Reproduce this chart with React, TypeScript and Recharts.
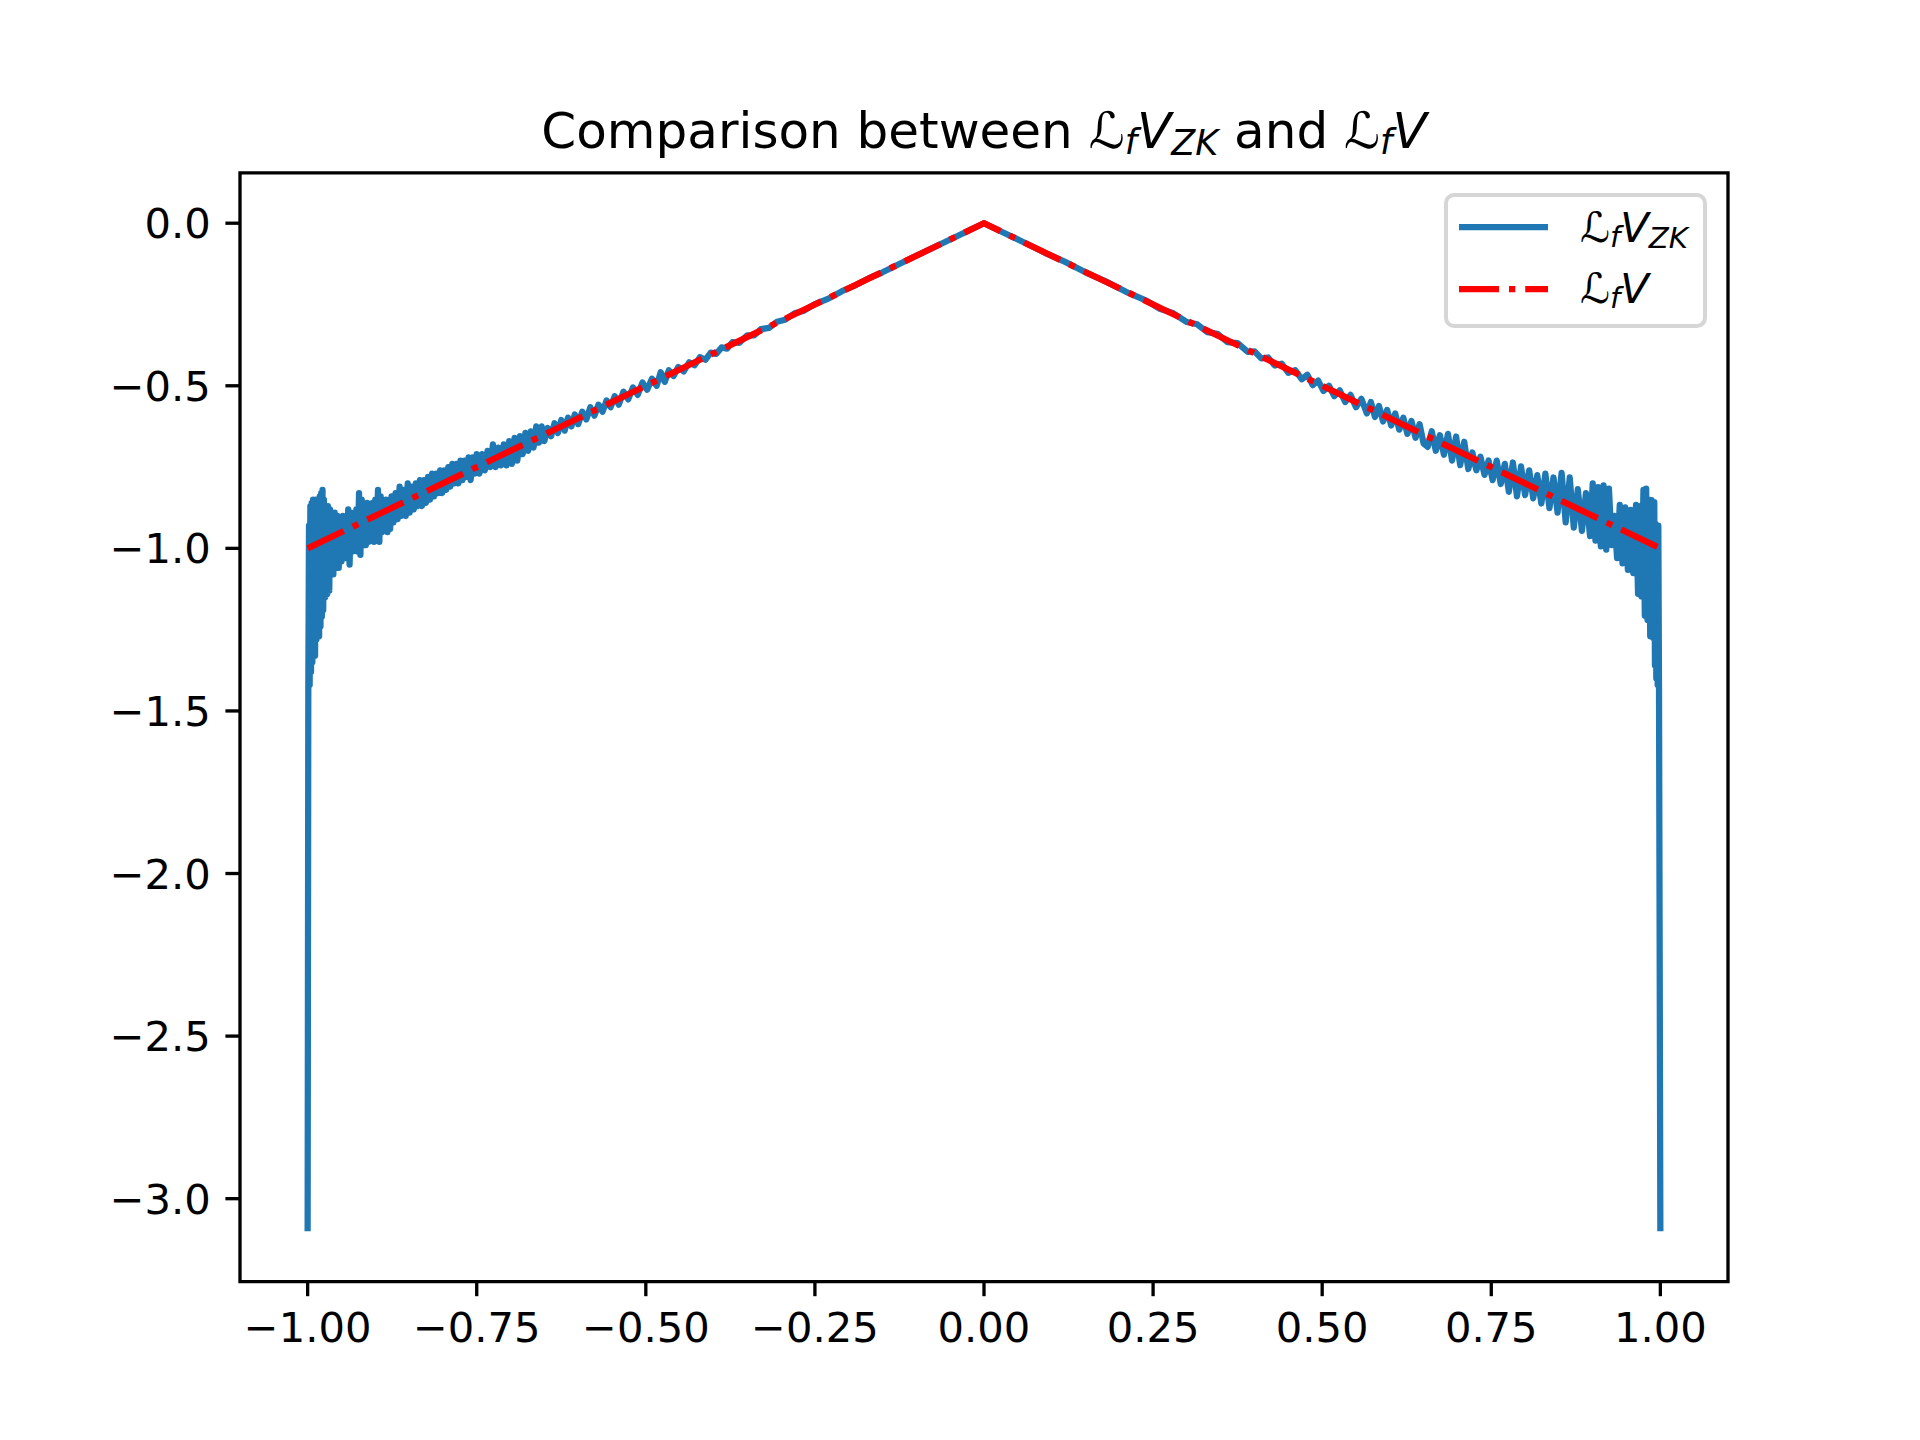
import React from "react";
import {
  Legend,
  Line,
  LineChart,
  ReferenceArea,
  XAxis,
  YAxis,
} from "recharts";

// x ticks / y ticks as drawn on the axes
const xTicks = [-1, -0.75, -0.5, -0.25, 0, 0.25, 0.5, 0.75, 1];
const yTicks = [0, -0.5, -1, -1.5, -2, -2.5, -3];

// L_f V : exact curve (red, dash-dot)
const lfV: [number, number][] = [
  [-1, -1],
  [0, 0],
  [1, -1],
];

// L_f V_ZK : noisy approximation (blue), left wing
const zkLeft: [number, number][] = [
  [-1.0, -3.1], [-0.999, -1.43], [-0.998, -0.93], [-0.997, -1.42], [-0.996, -0.87],
  [-0.995, -1.38], [-0.994, -0.86], [-0.993, -1.35], [-0.992, -0.85], [-0.991, -1.3],
  [-0.99, -0.86], [-0.989, -1.33], [-0.988, -0.85], [-0.987, -1.28], [-0.986, -0.86],
  [-0.985, -1.22], [-0.984, -0.87], [-0.983, -1.27], [-0.982, -0.84], [-0.981, -1.24],
  [-0.98, -0.83], [-0.979, -1.21], [-0.978, -0.82], [-0.977, -1.19], [-0.976, -0.85],
  [-0.974, -1.15], [-0.973, -0.88], [-0.971, -1.14], [-0.97, -0.87], [-0.968, -1.13],
  [-0.967, -0.88], [-0.965, -1.07], [-0.964, -0.89], [-0.962, -1.08], [-0.96, -0.89],
  [-0.958, -1.06], [-0.956, -0.9], [-0.954, -1.06], [-0.952, -0.92], [-0.95, -1.04],
  [-0.948, -0.9], [-0.946, -1.03], [-0.944, -0.91], [-0.942, -1.03], [-0.94, -0.88],
  [-0.938, -1.05], [-0.936, -0.89], [-0.934, -1.01], [-0.932, -0.9], [-0.93, -0.98],
  [-0.928, -0.88], [-0.926, -1.01], [-0.924, -0.83], [-0.922, -1.02], [-0.92, -0.85],
  [-0.918, -0.99], [-0.916, -0.87], [-0.914, -0.99], [-0.912, -0.86], [-0.91, -0.98],
  [-0.908, -0.88], [-0.906, -0.97], [-0.904, -0.86], [-0.902, -0.98], [-0.9, -0.85],
  [-0.898, -0.97], [-0.896, -0.82], [-0.894, -0.98], [-0.892, -0.84], [-0.89, -0.95],
  [-0.888, -0.86], [-0.886, -0.94], [-0.884, -0.85], [-0.882, -0.95], [-0.88, -0.86],
  [-0.878, -0.94], [-0.876, -0.84], [-0.873, -0.92], [-0.87, -0.83], [-0.867, -0.91],
  [-0.864, -0.81], [-0.861, -0.9], [-0.858, -0.82], [-0.855, -0.9], [-0.852, -0.8],
  [-0.849, -0.89], [-0.846, -0.81], [-0.843, -0.88], [-0.84, -0.8], [-0.837, -0.87],
  [-0.834, -0.79], [-0.831, -0.87], [-0.828, -0.79], [-0.825, -0.86], [-0.822, -0.78],
  [-0.819, -0.85], [-0.816, -0.77], [-0.813, -0.84], [-0.81, -0.77], [-0.807, -0.83],
  [-0.804, -0.76], [-0.801, -0.83], [-0.798, -0.76], [-0.795, -0.82], [-0.792, -0.75],
  [-0.789, -0.81], [-0.786, -0.74], [-0.783, -0.8], [-0.78, -0.74], [-0.777, -0.8],
  [-0.774, -0.73], [-0.771, -0.79], [-0.768, -0.73], [-0.765, -0.78], [-0.762, -0.72],
  [-0.759, -0.79], [-0.756, -0.72], [-0.753, -0.77], [-0.75, -0.71], [-0.746, -0.77],
  [-0.742, -0.71], [-0.738, -0.76], [-0.734, -0.7], [-0.73, -0.75], [-0.726, -0.68],
  [-0.722, -0.75], [-0.718, -0.69], [-0.714, -0.745], [-0.71, -0.68], [-0.706, -0.745],
  [-0.702, -0.67], [-0.698, -0.74], [-0.694, -0.66], [-0.69, -0.73], [-0.686, -0.655],
  [-0.682, -0.71], [-0.678, -0.645], [-0.674, -0.7], [-0.67, -0.64], [-0.666, -0.69],
  [-0.662, -0.625], [-0.658, -0.675], [-0.654, -0.625], [-0.65, -0.67], [-0.645, -0.63],
  [-0.64, -0.655], [-0.635, -0.615], [-0.63, -0.645], [-0.625, -0.605], [-0.62, -0.638],
  [-0.615, -0.598], [-0.61, -0.625], [-0.605, -0.588], [-0.6, -0.618], [-0.594, -0.58],
  [-0.588, -0.604], [-0.582, -0.566], [-0.576, -0.592], [-0.57, -0.558], [-0.564, -0.58],
  [-0.558, -0.545], [-0.552, -0.566], [-0.546, -0.532], [-0.54, -0.558], [-0.533, -0.518],
  [-0.526, -0.542], [-0.519, -0.505], [-0.512, -0.528], [-0.505, -0.49], [-0.498, -0.512],
  [-0.491, -0.478], [-0.484, -0.5], [-0.478, -0.458], [-0.472, -0.488], [-0.466, -0.452],
  [-0.459, -0.47], [-0.452, -0.442], [-0.444, -0.456], [-0.436, -0.428], [-0.428, -0.437],
  [-0.42, -0.412], [-0.412, -0.42], [-0.404, -0.398], [-0.396, -0.402], [-0.388, -0.382],
  [-0.38, -0.386], [-0.372, -0.366], [-0.362, -0.368], [-0.35, -0.345], [-0.34, -0.345],
  [-0.33, -0.326], [-0.318, -0.322], [-0.306, -0.303], [-0.294, -0.297], [-0.28, -0.277],
  [-0.266, -0.269], [-0.25, -0.249], [-0.23, -0.232], [-0.21, -0.209], [-0.19, -0.191],
  [-0.17, -0.169], [-0.15, -0.151], [-0.12, -0.12], [-0.09, -0.09], [-0.06, -0.06],
  [-0.03, -0.03],
];

// right wing, from the peak out to x = 1
const zkRight: [number, number][] = [
  [0, 0], [0.03, -0.03], [0.06, -0.06], [0.09, -0.091], [0.12, -0.119],
  [0.15, -0.151], [0.18, -0.179], [0.21, -0.211], [0.24, -0.238], [0.26, -0.263],
  [0.28, -0.277], [0.3, -0.304], [0.315, -0.311], [0.33, -0.335], [0.345, -0.34],
  [0.36, -0.366], [0.375, -0.369], [0.39, -0.396], [0.4, -0.394], [0.41, -0.416],
  [0.42, -0.413], [0.43, -0.438], [0.44, -0.432], [0.45, -0.46], [0.46, -0.452],
  [0.47, -0.48], [0.478, -0.466], [0.486, -0.498], [0.494, -0.484], [0.502, -0.516],
  [0.51, -0.5], [0.518, -0.532], [0.526, -0.514], [0.534, -0.55], [0.542, -0.528],
  [0.55, -0.566], [0.558, -0.54], [0.566, -0.585], [0.572, -0.55], [0.578, -0.596],
  [0.584, -0.562], [0.59, -0.61], [0.596, -0.574], [0.602, -0.622], [0.608, -0.585],
  [0.614, -0.635], [0.62, -0.598], [0.626, -0.648], [0.632, -0.608], [0.638, -0.66],
  [0.644, -0.618], [0.65, -0.678], [0.656, -0.688], [0.662, -0.64], [0.668, -0.7],
  [0.674, -0.652], [0.68, -0.712], [0.686, -0.648], [0.692, -0.73], [0.698, -0.656],
  [0.704, -0.744], [0.71, -0.672], [0.716, -0.756], [0.722, -0.705], [0.728, -0.76],
  [0.734, -0.718], [0.74, -0.774], [0.746, -0.73], [0.752, -0.79], [0.758, -0.73],
  [0.764, -0.802], [0.77, -0.74], [0.776, -0.826], [0.782, -0.736], [0.788, -0.84],
  [0.794, -0.748], [0.8, -0.836], [0.806, -0.76], [0.812, -0.846], [0.818, -0.775],
  [0.824, -0.862], [0.83, -0.77], [0.836, -0.876], [0.842, -0.782], [0.848, -0.89],
  [0.854, -0.768], [0.86, -0.92], [0.866, -0.782], [0.872, -0.936], [0.878, -0.818],
  [0.884, -0.946], [0.89, -0.83], [0.896, -0.962], [0.9, -0.8], [0.904, -0.976],
  [0.908, -0.812], [0.912, -0.994], [0.916, -0.806], [0.92, -1.004], [0.924, -0.816],
  [0.928, -0.99], [0.932, -0.9], [0.936, -1.03], [0.94, -0.866], [0.944, -1.046],
  [0.948, -0.874], [0.952, -1.066], [0.956, -0.882], [0.96, -1.076], [0.964, -0.866],
  [0.967, -1.14], [0.97, -0.87], [0.972, -1.148], [0.975, -0.82], [0.977, -1.207],
  [0.979, -0.816], [0.981, -1.22], [0.983, -0.85], [0.985, -1.27], [0.987, -0.852],
  [0.989, -1.275], [0.991, -0.858], [0.992, -1.36], [0.993, -0.925], [0.994, -1.4],
  [0.995, -0.93], [0.996, -1.42], [0.997, -0.93], [0.998, -1.43], [1.0, -3.1],
];

const W = 1920;
const H = 1440;
const FONT = "DejaVu Sans";
const FS = 41.67; // 10pt at 300 dpi
const BLUE = "#1f77b4";
const RED = "#ff0000";

const zkData = [...zkLeft, ...zkRight].map(([x, y]) => ({ x, y }));
const lfData = lfV.map(([x, y]) => ({ x, y }));

const fmt = (v: number, digits: number) => {
  const s = Math.abs(v).toFixed(digits);
  return v < 0 ? `\u2212${s}` : s;
};

function XTick(props: any) {
  const { x, y, payload } = props;
  return (
    <text x={x} y={y + 31} textAnchor="middle" fontFamily={FONT} fontSize={FS} fill="#000">
      {fmt(payload.value, 2)}
    </text>
  );
}

function YTick(props: any) {
  const { x, y, payload } = props;
  return (
    <text x={x} y={y + 15} textAnchor="end" fontFamily={FONT} fontSize={FS} fill="#000">
      {fmt(payload.value, 1)}
    </text>
  );
}

function LegendBox() {
  const sub = FS * 0.7;
  return (
    <svg width={263} height={135} style={{ display: "block" }}>
      <rect x={2} y={2} width={259} height={131} rx={8} fill="#fff" fillOpacity={0.8} stroke="#d6d6d6" strokeWidth={4} />
      <line x1={15} x2={104} y1={34} y2={34} stroke={BLUE} strokeWidth={6.25} />
      <line x1={15} x2={104} y1={96} y2={96} stroke={RED} strokeWidth={6.25} strokeDasharray="40 10 6.25 10" />
      <text x={136} y={49} fontFamily={FONT} fontSize={FS} fill="#000">
        ℒ
        <tspan fontStyle="italic" fontSize={sub} dy={5}>f</tspan>
        <tspan fontStyle="italic" fontSize={FS} dy={-5}>V</tspan>
        <tspan fontStyle="italic" fontSize={sub} dy={6}>ZK</tspan>
      </text>
      <text x={136} y={110} fontFamily={FONT} fontSize={FS} fill="#000">
        ℒ
        <tspan fontStyle="italic" fontSize={sub} dy={5}>f</tspan>
        <tspan fontStyle="italic" fontSize={FS} dy={-5}>V</tspan>
      </text>
    </svg>
  );
}

export default function App() {
  const tfs = 50; // 12pt title
  const tsub = tfs * 0.7;
  return (
    <div style={{ position: "absolute", left: 0, top: 0, width: W, height: H, background: "#fff" }}>
      <svg width={W} height={200} style={{ position: "absolute", left: 0, top: 0 }}>
        <text x={984} y={148} textAnchor="middle" fontFamily={FONT} fontSize={tfs} fill="#000">
          {"Comparison between "}
          <tspan>ℒ</tspan>
          <tspan fontStyle="italic" fontSize={tsub} dy={6}>f</tspan>
          <tspan fontStyle="italic" fontSize={tfs} dy={-6}>V</tspan>
          <tspan fontStyle="italic" fontSize={tsub} dy={7}>ZK</tspan>
          <tspan dy={-7}>{" and "}</tspan>
          <tspan>ℒ</tspan>
          <tspan fontStyle="italic" fontSize={tsub} dy={6}>f</tspan>
          <tspan fontStyle="italic" fontSize={tfs} dy={-6}>V</tspan>
        </text>
      </svg>
      <LineChart
        width={W}
        height={H}
        margin={{ top: 172.8, right: 192, left: 40, bottom: 58.4 }}
        style={{ position: "absolute", left: 0, top: 0 }}
      >
        <XAxis
          dataKey="x"
          type="number"
          domain={[-1.1, 1.1]}
          allowDataOverflow
          ticks={xTicks}
          interval={0}
          height={100}
          axisLine={false}
          tickSize={14.6}
          tickMargin={14.6}
          tickLine={{ stroke: "#000", strokeWidth: 3.33 }}
          tick={<XTick />}
        />
        <YAxis
          type="number"
          domain={[-3.255, 0.155]}
          allowDataOverflow
          ticks={yTicks}
          interval={0}
          width={200}
          axisLine={false}
          tickSize={14.6}
          tickMargin={14.6}
          tickLine={{ stroke: "#000", strokeWidth: 3.33 }}
          tick={<YTick />}
        />
        <Line
          data={zkData}
          dataKey="y"
          stroke={BLUE}
          strokeWidth={6.25}
          strokeLinejoin="round"
          dot={false}
          activeDot={false}
          isAnimationActive={false}
        />
        <Line
          data={lfData}
          dataKey="y"
          stroke={RED}
          strokeWidth={6.25}
          strokeDasharray="40 10 6.25 10"
          dot={false}
          activeDot={false}
          isAnimationActive={false}
        />
        <ReferenceArea
          x1={-1.1}
          x2={1.1}
          y1={-3.255}
          y2={0.155}
          ifOverflow="visible"
          fill="none"
          fillOpacity={0}
          stroke="#000"
          strokeWidth={3.33}
        />
        <Legend
          layout="vertical"
          align="center"
          verticalAlign="middle"
          content={() => <LegendBox />}
          wrapperStyle={{ position: "absolute", left: 1444, top: 193, width: 263, height: 135 }}
        />
      </LineChart>
    </div>
  );
}
